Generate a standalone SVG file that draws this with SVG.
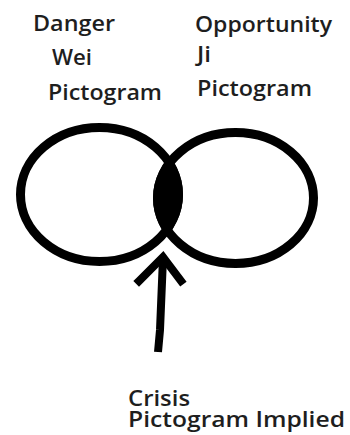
<svg xmlns="http://www.w3.org/2000/svg" width="350" height="435" viewBox="0 0 350 435">
<style>
.t{font-family:"Open Sans","Liberation Sans",sans-serif;font-size:21px;font-weight:600;fill:#1e1e1e}
.ring{fill:none;stroke:#000;stroke-width:9}
.conn{fill:none;stroke:#000;stroke-width:8;stroke-linecap:square;stroke-linejoin:miter}
</style>
<defs>
<clipPath id="leftIn"><ellipse cx="99.5" cy="194.5" rx="83.5" ry="71.5"/></clipPath>
</defs>
<rect width="350" height="435" fill="#fff"/>
<g id="danger">
<ellipse class="ring" cx="99.5" cy="194.5" rx="79" ry="67"/>
<text class="t" x="33" y="31" textLength="82" lengthAdjust="spacingAndGlyphs">Danger</text>
<text class="t" x="52" y="65" textLength="40" lengthAdjust="spacingAndGlyphs">Wei</text>
<text class="t" x="48" y="100" textLength="114" lengthAdjust="spacingAndGlyphs">Pictogram</text>
</g>
<g id="opportunity">
<ellipse class="ring" cx="235.5" cy="198" rx="78" ry="65.5"/>
<text class="t" x="195" y="32" textLength="137" lengthAdjust="spacingAndGlyphs">Opportunity</text>
<text class="t" x="197" y="62" textLength="14" lengthAdjust="spacingAndGlyphs">Ji</text>
<text class="t" x="197" y="96" textLength="115" lengthAdjust="spacingAndGlyphs">Pictogram</text>
</g>
<g id="crisis">
<ellipse cx="235.5" cy="198" rx="82.5" ry="70" fill="#000" clip-path="url(#leftIn)"/>
<text class="t" x="128" y="405.5" textLength="62" lengthAdjust="spacingAndGlyphs">Crisis</text>
<text class="t" x="128" y="427" textLength="217" lengthAdjust="spacingAndGlyphs">Pictogram Implied</text>
</g>
<g id="connectors">
<polyline class="conn" points="139,281 163,257 181,281"/>
<polyline class="conn" style="stroke-linecap:butt" points="163,258 160,330 158,352"/>
</g>
</svg>
